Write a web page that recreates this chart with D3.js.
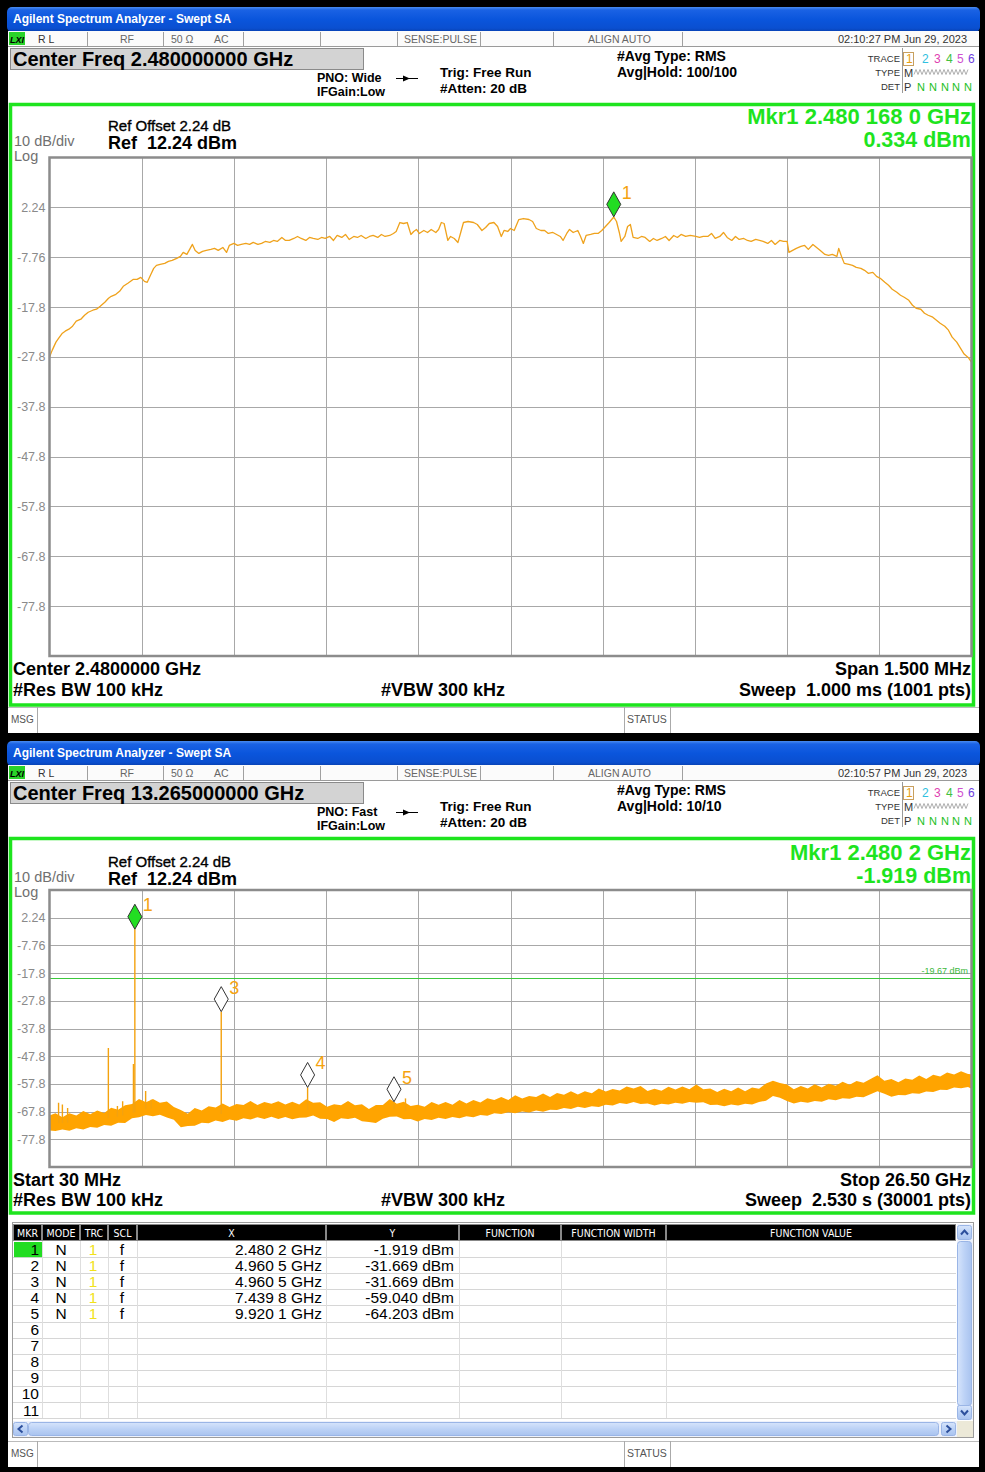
<!DOCTYPE html>
<html>
<head>
<meta charset="utf-8">
<script src="https://cdn.jsdelivr.net/npm/d3@7"></script>
<style>
html,body{margin:0;padding:0;background:#000;overflow:hidden}
svg{display:block}
</style>
</head>
<body>
<svg id="chart" width="985" height="1472"></svg>
<script>
// ================= DATA =================
const yTickLabels = ["2.24","-7.76","-17.8","-27.8","-37.8","-47.8","-57.8","-67.8","-77.8"];
const refLevelDbm = 12.24;
const dbPerDiv = 10;
const numDivs = 10;

// ---- Screen 1: 1.5 MHz span around 2.48 GHz (sweep point, dBm) ----
const topStartGHz = 2.47925, topStopGHz = 2.48075, topSweepPoints = 1001;
const topTrace = [
[0,-27.8],[3,-26.4],[7,-24.8],[10,-24.0],[14,-23.0],[17,-22.6],[21,-22.2],[25,-21.6],[29,-20.6],[34,-20.2],
[38,-19.4],[42,-18.8],[47,-18.4],[51,-18.2],[55,-17.6],[60,-16.8],[64,-16.0],[67,-15.6],[72,-15.2],[76,-14.6],
[80,-13.6],[85,-13.0],[88,-12.6],[91,-12.2],[95,-12.2],[99,-11.8],[103,-12.6],[106,-12.8],[110,-11.2],[113,-10.0],
[116,-9.4],[120,-9.2],[125,-9.0],[129,-8.6],[133,-8.4],[138,-8.0],[142,-7.6],[145,-6.8],[149,-7.2],[152,-6.2],
[155,-5.2],[158,-6.4],[162,-7.0],[166,-6.6],[170,-6.4],[175,-6.2],[179,-6.0],[183,-6.4],[188,-5.8],[192,-6.8],
[195,-5.4],[200,-5.0],[204,-5.4],[208,-5.2],[213,-5.0],[217,-5.2],[221,-4.8],[226,-5.2],[230,-5.0],[234,-4.6],
[239,-4.8],[243,-4.4],[247,-4.6],[252,-3.8],[256,-4.4],[260,-4.4],[265,-4.0],[269,-3.6],[273,-4.0],[278,-4.4],
[282,-3.8],[286,-4.0],[291,-4.2],[295,-3.8],[299,-4.0],[304,-3.6],[308,-4.4],[312,-3.4],[317,-3.8],[321,-3.2],
[325,-4.2],[330,-3.6],[334,-3.8],[338,-3.4],[343,-4.0],[347,-3.6],[351,-3.4],[356,-3.8],[360,-3.2],[364,-3.6],
[369,-3.4],[373,-3.0],[376,-2.6],[380,-0.8],[384,-1.0],[388,-0.8],[392,-3.2],[395,-2.6],[398,-2.2],[401,-3.0],
[406,-2.4],[410,-2.8],[414,-2.2],[419,-2.8],[422,-2.2],[425,-0.8],[428,-1.0],[432,-4.4],[435,-3.6],[439,-4.0],
[443,-4.8],[446,-2.8],[449,-0.8],[454,-0.6],[460,-0.8],[464,-1.2],[469,-2.4],[473,-1.8],[477,-1.0],[482,-0.8],
[486,-1.6],[490,-3.6],[493,-2.4],[497,-2.6],[500,-2.0],[504,-2.4],[509,-0.2],[514,0.0],[520,-0.2],[524,-0.6],
[528,-2.0],[533,-2.4],[537,-2.4],[541,-3.0],[546,-2.8],[550,-3.2],[554,-3.6],[557,-4.4],[561,-3.0],[564,-2.2],
[568,-2.8],[573,-2.4],[576,-3.6],[579,-5.0],[582,-3.4],[587,-3.2],[591,-3.0],[595,-3.0],[599,-2.4],[603,-1.6],
[607,-0.8],[612,0.3],[615,-0.6],[618,-2.8],[620,-4.6],[624,-3.6],[627,-1.6],[630,-1.2],[633,-3.8],[638,-4.0],
[642,-3.6],[646,-3.8],[651,-4.6],[655,-4.0],[659,-4.4],[664,-4.0],[668,-3.6],[672,-4.4],[677,-3.4],[681,-3.8],
[685,-3.2],[690,-3.6],[695,-3.4],[701,-3.6],[705,-3.8],[709,-3.6],[714,-3.6],[718,-3.0],[722,-4.0],[727,-3.6],
[731,-2.8],[735,-3.8],[740,-4.4],[744,-3.6],[748,-4.2],[753,-4.0],[757,-4.4],[761,-4.6],[766,-4.2],[770,-4.4],
[774,-4.6],[779,-5.0],[783,-4.4],[787,-5.2],[792,-4.4],[796,-4.6],[800,-4.6],[802,-6.8],[806,-6.4],[810,-6.0],
[815,-5.6],[819,-5.4],[823,-6.2],[828,-5.2],[832,-5.8],[836,-6.4],[841,-7.2],[845,-7.4],[849,-7.2],[854,-7.6],
[856,-6.0],[859,-7.6],[862,-9.0],[867,-9.2],[871,-9.4],[875,-9.8],[880,-10.0],[884,-10.4],[888,-11.0],[893,-10.8],
[897,-11.6],[901,-12.0],[906,-12.8],[910,-13.4],[914,-14.2],[919,-14.8],[923,-15.4],[927,-15.8],[932,-16.4],[936,-17.4],
[940,-18.0],[945,-18.2],[949,-19.0],[953,-19.4],[958,-19.8],[962,-20.4],[966,-21.0],[971,-21.6],[975,-22.4],[979,-23.8],
[984,-24.8],[988,-26.0],[992,-27.2],[997,-28.0],[1000,-28.8]
];
const topMarkers = [{id:1, freqGHz:2.4801680, dbm:0.334, active:true}];

// ---- Screen 2: 30 MHz .. 26.5 GHz  noise floor band [GHz, low dBm, high dBm] ----
const botStartGHz = 0.03, botStopGHz = 26.5;
const noiseBand = [
[0.03,-74.6,-69.2],[0.2,-74.8,-68.4],[0.4,-74.2,-69.8],[0.6,-74.7,-68.4],[0.8,-73.8,-69.2],[1.0,-74.2,-67.5],
[1.2,-73.3,-68.7],[1.4,-73.6,-67.4],[1.6,-72.6,-68.3],[1.8,-72.9,-66.4],[2.0,-71.8,-67.1],[2.2,-71.9,-65.5],
[2.4,-70.2,-65.0],[2.6,-69.8,-63.2],[2.8,-69.0,-64.4],[3.0,-69.4,-63.2],[3.2,-68.9,-64.6],[3.4,-69.9,-64.1],
[3.6,-70.7,-66.1],[3.8,-73.4,-67.2],[4.0,-73.0,-68.5],[4.2,-72.9,-66.5],[4.4,-71.8,-67.4],[4.6,-72.0,-65.8],
[4.8,-71.0,-66.3],[5.0,-71.5,-64.8],[5.2,-70.6,-66.1],[5.4,-71.1,-65.0],[5.6,-70.2,-65.4],[5.8,-70.6,-63.9],
[6.0,-69.8,-65.4],[6.2,-70.4,-64.3],[6.4,-69.6,-64.9],[6.6,-70.4,-64.0],[6.8,-69.7,-65.2],[7.0,-70.5,-64.2],
[7.2,-70.0,-65.2],[7.4,-69.9,-63.3],[7.6,-69.2,-64.6],[7.8,-70.3,-64.4],[8.0,-70.4,-66.0],[8.2,-71.5,-65.1],
[8.4,-70.2,-65.5],[8.6,-70.4,-63.9],[8.8,-70.0,-65.5],[9.0,-71.2,-65.1],[9.2,-71.5,-66.8],[9.4,-71.9,-65.4],
[9.6,-70.3,-65.4],[9.8,-69.6,-63.2],[10.0,-69.5,-64.9],[10.2,-70.5,-64.2],[10.4,-70.4,-65.7],[10.6,-71.3,-65.3],
[10.8,-70.4,-66.0],[11.0,-70.8,-64.3],[11.2,-70.0,-65.3],[11.4,-70.4,-64.3],[11.6,-69.7,-65.3],[11.8,-70.2,-63.6],
[12.0,-69.4,-64.8],[12.2,-69.8,-63.6],[12.4,-69.0,-64.5],[12.6,-69.3,-62.9],[12.8,-68.4,-63.6],[13.0,-68.6,-62.5],
[13.2,-68.0,-63.6],[13.4,-68.4,-61.9],[13.6,-67.7,-63.0],[13.8,-68.1,-62.1],[14.0,-67.4,-62.5],[14.2,-67.8,-61.2],
[14.4,-67.1,-62.5],[14.6,-67.2,-61.0],[14.8,-66.5,-61.7],[15.0,-66.8,-60.4],[15.2,-66.0,-61.6],[15.4,-66.5,-60.4],
[15.6,-65.8,-61.1],[15.8,-66.1,-59.4],[16.0,-65.3,-60.5],[16.2,-65.6,-59.6],[16.4,-64.7,-60.1],[16.6,-65.0,-58.7],
[16.8,-64.3,-59.4],[17.0,-65.0,-58.5],[17.2,-64.8,-60.3],[17.4,-65.6,-59.5],[17.6,-64.9,-60.2],[17.8,-65.2,-58.8],
[18.0,-64.6,-59.8],[18.2,-64.9,-58.7],[18.4,-64.3,-59.7],[18.6,-64.6,-58.0],[18.8,-64.4,-59.7],[19.0,-65.4,-59.4],
[19.2,-65.3,-60.7],[19.4,-65.8,-59.5],[19.6,-65.2,-60.4],[19.8,-65.6,-59.1],[20.0,-64.9,-60.4],[20.2,-65.2,-59.1],
[20.4,-64.3,-59.5],[20.6,-63.8,-57.6],[20.8,-62.1,-56.6],[21.0,-62.8,-57.4],[21.2,-63.9,-58.0],[21.4,-64.8,-59.7],
[21.6,-64.2,-58.5],[21.8,-64.6,-59.4],[22.0,-63.9,-57.9],[22.2,-64.2,-59.1],[22.4,-63.3,-57.7],[22.6,-63.7,-58.4],
[22.8,-62.9,-57.0],[23.0,-63.1,-58.1],[23.2,-62.4,-56.7],[23.4,-62.6,-57.3],[23.6,-61.5,-56.0],[23.8,-60.4,-54.6],
[24.0,-61.3,-56.6],[24.2,-62.4,-56.0],[24.4,-61.8,-57.2],[24.6,-61.9,-55.8],[24.8,-61.1,-56.3],[25.0,-61.3,-54.7],
[25.2,-60.5,-56.0],[25.4,-60.7,-54.5],[25.6,-59.9,-55.1],[25.8,-60.0,-53.6],[26.0,-59.1,-54.4],[26.2,-59.3,-53.2],
[26.4,-58.9,-54.2],[26.5,-59.5,-54.3]
];
// discrete spurs / harmonics [GHz, floor dBm, peak dBm]
const spikes = [
[0.29,-72.0,-64.6],[0.40,-72.0,-65.2],[0.55,-71.8,-66.5],[1.72,-70.2,-44.8],[1.98,-69.6,-65.7],
[2.13,-69.2,-64.0],[2.44,-68.2,-50.6],[2.4802,-68.0,-1.919],[2.79,-66.8,-60.3],[2.95,-66.6,-63.5],
[4.9605,-68.6,-31.669],[7.4398,-67.2,-59.04],[9.9201,-67.0,-64.203],[10.25,-67.6,-63.0]
];
const botMarkers = [
  {id:1, freqGHz:2.4802, dbm:-1.919, active:true},
  {id:3, freqGHz:4.9605, dbm:-31.669, active:false},
  {id:4, freqGHz:7.4398, dbm:-59.040, active:false},
  {id:5, freqGHz:9.9201, dbm:-64.203, active:false}
];
const thresholdDbm = -19.67;

// ---- Marker table ----
const tableHeaders = ["MKR","MODE","TRC","SCL","X","Y","FUNCTION","FUNCTION WIDTH","FUNCTION VALUE"];
const tableMkr  = ["1","2","3","4","5","6","7","8","9","10","11"];
const tableMode = ["N","N","N","N","N"];
const tableTrc  = ["1","1","1","1","1"];
const tableScl  = ["f","f","f","f","f"];
const tableX    = ["2.480 2 GHz","4.960 5 GHz","4.960 5 GHz","7.439 8 GHz","9.920 1 GHz"];
const tableY    = ["-1.919 dBm","-31.669 dBm","-31.669 dBm","-59.040 dBm","-64.203 dBm"];

// ---- Screen header texts ----
const screens = [
  { oy:0, bottom:733, centerFreq:"Center Freq 2.480000000 GHz", pno:"PNO: Wide", avgHold:"Avg|Hold: 100/100",
    time:"02:10:27 PM Jun 29, 2023", mkrF:"Mkr1 2.480 168 0 GHz", mkrV:"0.334 dBm",
    l1:"Center 2.4800000 GHz", r1:"Span 1.500 MHz", rbw:"#Res BW 100 kHz", vbw:"#VBW 300 kHz", sweep:"Sweep\u00a0 1.000 ms (1001 pts)" },
  { oy:734, bottom:1467, centerFreq:"Center Freq 13.265000000 GHz", pno:"PNO: Fast", avgHold:"Avg|Hold: 10/10",
    time:"02:10:57 PM Jun 29, 2023", mkrF:"Mkr1 2.480 2 GHz", mkrV:"-1.919 dBm",
    l1:"Start 30 MHz", r1:"Stop 26.50 GHz", rbw:"#Res BW 100 kHz", vbw:"#VBW 300 kHz", sweep:"Sweep\u00a0 2.530 s (30001 pts)" }
];

// ================= DRAWING =================
const FONT = "'Liberation Sans', Arial, Helvetica, sans-serif";
const COND = "'DejaVu Sans Condensed','DejaVu Sans',sans-serif";
const GREEN = "#1ee41e";
const ORANGE = "#f5a30f";
const svg = d3.select("#chart").attr("font-family", FONT);

const defs = svg.append("defs");
const tg = defs.append("linearGradient").attr("id","titleGrad").attr("x1",0).attr("y1",0).attr("x2",0).attr("y2",1);
[[0,"#4a8cf0"],[0.12,"#1a62e4"],[0.5,"#0a55dc"],[0.85,"#0a4fd0"],[1,"#083fae"]].forEach(s=>tg.append("stop").attr("offset",s[0]).attr("stop-color",s[1]));
const sg = defs.append("linearGradient").attr("id","scrollGrad").attr("x1",0).attr("y1",0).attr("x2",0).attr("y2",1);
[[0,"#d6e4fb"],[0.5,"#bcd2f6"],[1,"#a9c3ef"]].forEach(s=>sg.append("stop").attr("offset",s[0]).attr("stop-color",s[1]));
const sgv = defs.append("linearGradient").attr("id","scrollGradV").attr("x1",0).attr("y1",0).attr("x2",1).attr("y2",0);
[[0,"#d6e4fb"],[0.5,"#bcd2f6"],[1,"#a9c3ef"]].forEach(s=>sgv.append("stop").attr("offset",s[0]).attr("stop-color",s[1]));

svg.append("rect").attr("width",985).attr("height",1472).attr("fill","#000");

function txt(g, x, y, s, o={}) {
  const t = g.append("text").attr("x",x).attr("y",y).text(s)
    .attr("font-size", o.size||12).attr("fill", o.fill||"#000")
    .attr("font-weight", o.bold?"bold":"normal")
    .attr("text-anchor", o.anchor||"start");
  if (o.family) t.attr("font-family", o.family);
  if (o.italic) t.attr("font-style","italic");
  if (o.stroke) t.attr("stroke", o.stroke).attr("stroke-width", o.sw||0.4);
  return t;
}
function hline(g,x1,x2,y,c,w){g.append("line").attr("x1",x1).attr("x2",x2).attr("y1",y).attr("y2",y).attr("stroke",c).attr("stroke-width",w||1);}
function vline(g,x,y1,y2,c,w){g.append("line").attr("x1",x).attr("x2",x).attr("y1",y1).attr("y2",y2).attr("stroke",c).attr("stroke-width",w||1);}

function drawChrome(s, panelBottom) {
  const g = svg.append("g"), oy = s.oy;
  g.append("rect").attr("x",7).attr("y",oy+7).attr("width",973).attr("height",25).attr("rx",5).attr("fill","url(#titleGrad)");
  txt(g, 13, oy+23, "Agilent Spectrum Analyzer - Swept SA", {size:12, bold:true, fill:"#fff"});
  g.append("rect").attr("x",8).attr("y",oy+31).attr("width",971).attr("height",s.bottom-(oy+31)).attr("fill","#fff");
  g.append("rect").attr("x",8).attr("y",oy+31).attr("width",971).attr("height",15).attr("fill","#fbfbfb");
  hline(g, 8, 979, oy+46.5, "#9a9a9a");
  [87,163,243,320,397,480,553,682].forEach(x=>vline(g,x+0.5,oy+32,oy+46,"#a0a0a0"));
  g.append("rect").attr("x",9).attr("y",oy+32).attr("width",16).attr("height",13).attr("fill","#2ad42a");
  txt(g, 10, oy+43, "LXI", {size:9, bold:true, italic:true});
  const sc = "#666";
  txt(g, 38, oy+43, "R L", {size:10.5, fill:"#333"});
  txt(g, 120, oy+43, "RF", {size:10.5, fill:sc});
  txt(g, 171, oy+43, "50 \u03A9", {size:10.5, fill:sc});
  txt(g, 214, oy+43, "AC", {size:10.5, fill:sc});
  txt(g, 404, oy+43, "SENSE:PULSE", {size:10.5, fill:sc});
  txt(g, 588, oy+43, "ALIGN AUTO", {size:10.5, fill:sc});
  txt(g, 967, oy+43, s.time, {size:11, fill:"#333", anchor:"end"});
  g.append("rect").attr("x",10.5).attr("y",oy+48.5).attr("width",353).attr("height",21).attr("fill","#d3d3d3").attr("stroke","#8a8a8a");
  txt(g, 13, oy+66, s.centerFreq, {size:20, bold:true});
  txt(g, 317, oy+82, s.pno, {size:12.5, bold:true});
  txt(g, 317, oy+96, "IFGain:Low", {size:12.5, bold:true});
  hline(g, 396, 418, oy+78.5, "#000", 1);
  g.append("path").attr("d",`M403,${oy+75.5} L410,${oy+78.5} L403,${oy+81.5} Z`).attr("fill","#000");
  txt(g, 440, oy+77, "Trig: Free Run", {size:13.5, bold:true});
  txt(g, 440, oy+93, "#Atten: 20 dB", {size:13.5, bold:true});
  txt(g, 617, oy+61, "#Avg Type: RMS", {size:14, bold:true});
  txt(g, 617, oy+77, s.avgHold, {size:14, bold:true});
  txt(g, 900, oy+62, "TRACE", {size:9.5, fill:"#333", anchor:"end"});
  txt(g, 900, oy+76, "TYPE", {size:9.5, fill:"#333", anchor:"end"});
  txt(g, 900, oy+90, "DET", {size:9.5, fill:"#333", anchor:"end"});
  vline(g, 902.5, oy+48, oy+93, "#999");
  g.append("rect").attr("x",903.5).attr("y",oy+52.5).attr("width",10).attr("height",13).attr("fill","none").attr("stroke","#c8a060");
  const tcol = ["#e8a010","#30c0e0","#e040b0","#40c040","#d050d0","#7040e0"];
  [906,922,934,946,957,968].forEach((x,i)=>txt(g, x, oy+63, String(i+1), {size:12, fill:tcol[i]}));
  txt(g, 904, oy+77, "M", {size:11, fill:"#333"});
  const wv = d3.range(0, 28).map(i => [914 + i*2, oy + (i%2 ? 69.5 : 74.5)]);
  g.append("path").attr("d", d3.line()(wv)).attr("fill","none").attr("stroke","#999").attr("stroke-width",0.8);
  txt(g, 904, oy+91, "P", {size:11, fill:"#333"});
  [917,929,941,952,964].forEach(x=>txt(g, x, oy+91, "N", {size:11, fill:"#22c022"}));
  const my = s.bottom - 26;
  hline(g, 8, 979, my+0.5, "#bbb");
  vline(g, 37.5, my, s.bottom, "#aaa");
  vline(g, 624.5, my, s.bottom, "#aaa");
  vline(g, 670.5, my, s.bottom, "#aaa");
  txt(g, 11, my+16, "MSG", {size:10, fill:"#555"});
  txt(g, 627, my+16, "STATUS", {size:10.5, fill:"#555"});
  g.append("rect").attr("x",10.5).attr("y",oy+104.5).attr("width",963).attr("height",panelBottom-(oy+104.5))
    .attr("fill","none").attr("stroke",GREEN).attr("stroke-width",3.5);
  return g;
}

function panelTexts(g, s, oyT, yBot1, yBot2) {
  txt(g, 108, oyT+131, "Ref Offset 2.24 dB", {size:15, stroke:"#000", sw:0.35});
  txt(g, 108, oyT+149, "Ref\u00a0 12.24 dBm", {size:18, bold:true});
  txt(g, 14, oyT+146, "10 dB/div", {size:14.5, fill:"#707070"});
  txt(g, 14, oyT+161, "Log", {size:14.5, fill:"#707070"});
  txt(g, 971, oyT+124, s.mkrF, {size:22, bold:true, fill:GREEN, anchor:"end"});
  txt(g, 971, oyT+147, s.mkrV, {size:21.5, bold:true, fill:GREEN, anchor:"end"});
  txt(g, 13, yBot1, s.l1, {size:18, bold:true});
  txt(g, 971, yBot1, s.r1, {size:18, bold:true, anchor:"end"});
  txt(g, 13, yBot2, s.rbw, {size:18, bold:true});
  txt(g, 381, yBot2, s.vbw, {size:18, bold:true});
  txt(g, 971, yBot2, s.sweep, {size:18, bold:true, anchor:"end"});
}

function drawPlot(box, xDomain, clipId) {
  const g = svg.append("g");
  const x = d3.scaleLinear().domain(xDomain).range([box.x0, box.x1]);
  const y = d3.scaleLinear().domain([refLevelDbm - dbPerDiv*numDivs, refLevelDbm]).range([box.y1, box.y0]);
  g.append("rect").attr("x",box.x0).attr("y",box.y0).attr("width",box.x1-box.x0).attr("height",box.y1-box.y0).attr("fill","#fff");
  const vDiv = d3.range(1, numDivs).map(i => xDomain[0] + i*(xDomain[1]-xDomain[0])/numDivs);
  g.selectAll(null).data(vDiv).join("line")
    .attr("x1",d=>Math.round(x(d))+0.5).attr("x2",d=>Math.round(x(d))+0.5)
    .attr("y1",box.y0).attr("y2",box.y1).attr("stroke","#a8a8a8");
  const hVals = yTickLabels.map((l,i) => refLevelDbm - dbPerDiv*(i+1));
  g.selectAll(null).data(hVals).join("line")
    .attr("x1",box.x0).attr("x2",box.x1)
    .attr("y1",d=>Math.round(y(d))+0.5).attr("y2",d=>Math.round(y(d))+0.5).attr("stroke","#a8a8a8");
  g.selectAll(null).data(yTickLabels).join("text")
    .attr("x", box.x0-4).attr("y",(d,i)=>y(hVals[i])+4.5).attr("text-anchor","end")
    .attr("font-size",12.5).attr("fill","#8a8a8a").text(d=>d);
  defs.append("clipPath").attr("id",clipId).append("rect")
    .attr("x",box.x0).attr("y",box.y0).attr("width",box.x1-box.x0).attr("height",box.y1-box.y0);
  const inner = g.append("g").attr("clip-path",`url(#${clipId})`);
  return {g, inner, x, y, box};
}
function drawBorder(p) {
  p.g.append("rect").attr("x",p.box.x0).attr("y",p.box.y0).attr("width",p.box.x1-p.box.x0).attr("height",p.box.y1-p.box.y0)
    .attr("fill","none").attr("stroke","#8c8c8c").attr("stroke-width",2.5);
}
function drawMarkers(p, markers) {
  markers.forEach(m => {
    const mx = p.x(m.freqGHz), my = p.y(m.dbm);
    p.g.append("path").attr("d",`M${mx},${my} L${mx+7},${my-12.5} L${mx},${my-25} L${mx-7},${my-12.5} Z`)
      .attr("fill", m.active ? "#22dd22" : "#fff").attr("stroke", "#333").attr("stroke-width",1);
    txt(p.g, mx+8, my-18, String(m.id), {size:18, fill:ORANGE});
  });
}

// ---- Screen 1 ----
const s1 = screens[0];
const c1 = drawChrome(s1, 705);
panelTexts(c1, s1, 0, 675, 696);
const p1 = drawPlot({x0:49.5, x1:971.5, y0:157.5, y1:656}, [topStartGHz, topStopGHz], "clip1");
const ptFreq = i => topStartGHz + i*(topStopGHz-topStartGHz)/(topSweepPoints-1);
p1.inner.append("path").datum(topTrace)
  .attr("d", d3.line().x(d=>p1.x(ptFreq(d[0]))).y(d=>p1.y(d[1])))
  .attr("fill","none").attr("stroke","#efa21c").attr("stroke-width",1.3).attr("stroke-linejoin","round");
drawBorder(p1);
drawMarkers(p1, topMarkers);

// ---- Screen 2 ----
const s2 = screens[1];
const c2 = drawChrome(s2, 1213);
panelTexts(c2, s2, 736, 1186, 1206);
const p2 = drawPlot({x0:49.5, x1:971.5, y0:890, y1:1167}, [botStartGHz, botStopGHz], "clip2");
p2.inner.append("line").attr("x1",p2.box.x0).attr("x2",p2.box.x1)
  .attr("y1",Math.round(p2.y(thresholdDbm))+0.5).attr("y2",Math.round(p2.y(thresholdDbm))+0.5)
  .attr("stroke","#3cc83c").attr("stroke-width",1);
txt(p2.g, 968, p2.y(thresholdDbm)-4, thresholdDbm.toFixed(2)+" dBm", {size:9, fill:"#3cb83c", anchor:"end"});
p2.inner.append("path").datum(noiseBand)
  .attr("d", d3.area().x(d=>p2.x(d[0])).y0(d=>p2.y(d[1])).y1(d=>p2.y(d[2])))
  .attr("fill","#ffa400");
p2.inner.selectAll(null).data(spikes).join("line")
  .attr("x1",d=>p2.x(d[0])).attr("x2",d=>p2.x(d[0]))
  .attr("y1",d=>p2.y(d[1])).attr("y2",d=>p2.y(d[2]))
  .attr("stroke","#f4a20e").attr("stroke-width",1.4);
drawBorder(p2);
drawMarkers(p2, botMarkers);

// ---- Marker table ----
(function drawTable(){
  const g = svg.append("g");
  const colX = [13,42,80,108,137,326,459,561,666,956];
  const top = 1224, hh = 17, rowH = 16.1, nRows = 11;
  const rowTop = i => top + hh + i*rowH;
  tableHeaders.forEach((h,i)=>{
    g.append("rect").attr("x",colX[i]+0.5).attr("y",top+0.5).attr("width",colX[i+1]-colX[i]-1).attr("height",hh-1)
      .attr("fill","#000").attr("stroke","#888").attr("stroke-width",1);
    txt(g, (colX[i]+colX[i+1])/2, top+13, h, {size:10.5, fill:"#fff", anchor:"middle", family:COND});
  });
  d3.range(1, nRows+1).forEach(i => hline(g, colX[0], colX[9], Math.round(rowTop(i))+0.5, "#d6d6d6"));
  colX.slice(1,9).forEach(x => vline(g, x+0.5, top+hh, rowTop(nRows), "#dedede"));
  g.append("rect").attr("x",colX[0]+1).attr("y",rowTop(0)+1).attr("width",colX[1]-colX[0]-1).attr("height",rowH-1).attr("fill","#22dd22");
  tableMkr.forEach((m,i)=>{
    const by = rowTop(i) + 13.5;
    txt(g, 39, by, m, {size:15.5, anchor:"end"});
    if (i < tableMode.length) {
      txt(g, 61, by, tableMode[i], {size:15.5, anchor:"middle"});
      txt(g, 93, by, tableTrc[i], {size:15.5, anchor:"middle", fill:"#f2e21a"});
      txt(g, 122, by, tableScl[i], {size:15.5, anchor:"middle"});
      txt(g, 322, by, tableX[i], {size:15.5, anchor:"end"});
      txt(g, 454, by, tableY[i], {size:15.5, anchor:"end"});
    }
  });
  g.append("rect").attr("x",957).attr("y",top).attr("width",16).attr("height",196).attr("fill","#eef2fb");
  g.append("rect").attr("x",957.5).attr("y",top+17.5).attr("width",14).attr("height",164).attr("rx",3)
    .attr("fill","url(#scrollGradV)").attr("stroke","#9ab5e6");
  [[top+1, true],[top+181, false]].forEach(([by,up])=>{
    g.append("rect").attr("x",957.5).attr("y",by+0.5).attr("width",14).attr("height",14).attr("rx",2)
      .attr("fill","url(#scrollGrad)").attr("stroke","#9ab5e6");
    const cx = 964.5, cy = by+7.5;
    g.append("path").attr("d", up ? `M${cx-3.5},${cy+2} L${cx},${cy-2} L${cx+3.5},${cy+2}` : `M${cx-3.5},${cy-2} L${cx},${cy+2} L${cx+3.5},${cy-2}`)
      .attr("fill","none").attr("stroke","#2c4f9c").attr("stroke-width",2);
  });
  const hy = 1421;
  g.append("rect").attr("x",13).attr("y",hy).attr("width",960).attr("height",16).attr("fill","#eef2fb");
  g.append("rect").attr("x",28.5).attr("y",hy+1.5).attr("width",910).attr("height",13).attr("rx",3)
    .attr("fill","url(#scrollGrad)").attr("stroke","#9ab5e6");
  [[13.5,true],[941.5,false]].forEach(([bx,left])=>{
    g.append("rect").attr("x",bx).attr("y",hy+1.5).attr("width",14).attr("height",13).attr("rx",2)
      .attr("fill","url(#scrollGrad)").attr("stroke","#9ab5e6");
    const cx = bx+7, cy = hy+8;
    g.append("path").attr("d", left ? `M${cx+2},${cy-3.5} L${cx-2},${cy} L${cx+2},${cy+3.5}` : `M${cx-2},${cy-3.5} L${cx+2},${cy} L${cx-2},${cy+3.5}`)
      .attr("fill","none").attr("stroke","#2c4f9c").attr("stroke-width",2);
  });
  g.append("rect").attr("x",957).attr("y",hy).attr("width",16).attr("height",16).attr("fill","#ece9d8");
  g.append("rect").attr("x",12.5).attr("y",top-1.5).attr("width",961).attr("height",hy+17-top+1).attr("fill","none").attr("stroke","#9c9c9c");
})();
</script>
</body>
</html>
